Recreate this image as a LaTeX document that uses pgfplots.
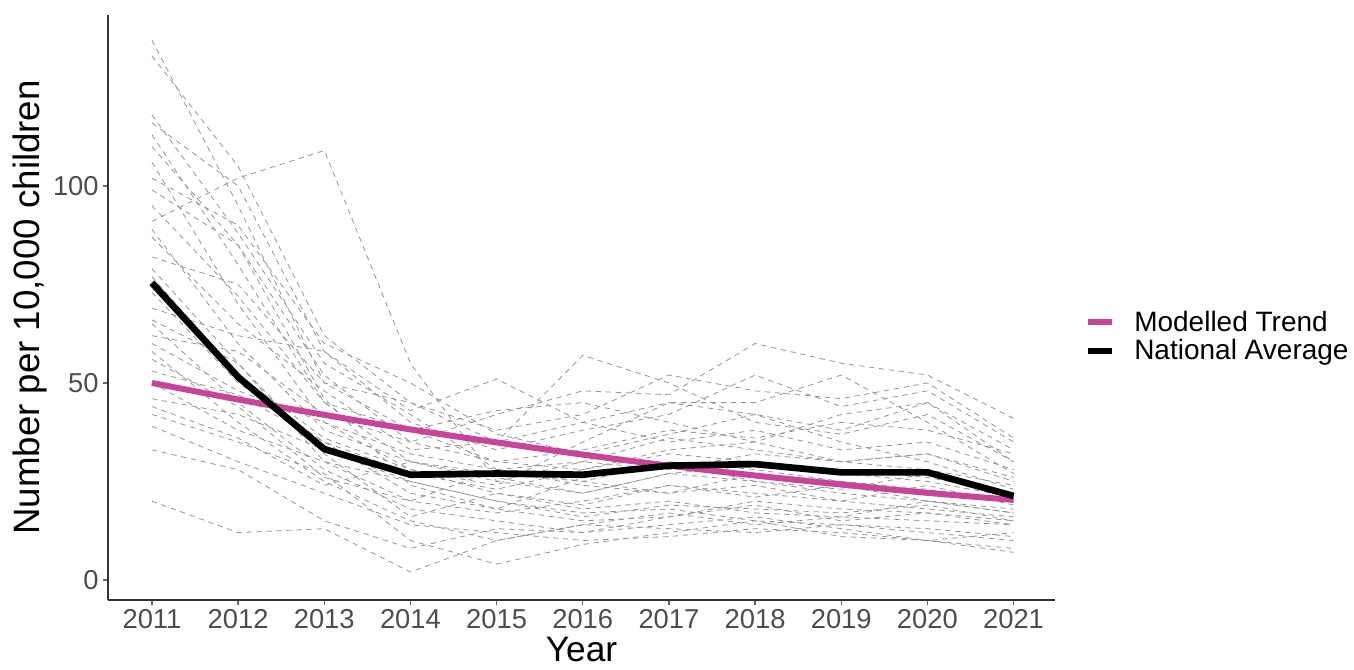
\documentclass[border=0pt]{standalone}
\usepackage{pgfplots}
\pgfplotsset{compat=1.18}
\usepackage{fontspec}
\setmainfont{Liberation Sans}
\definecolor{trendpink}{RGB}{199,68,153}
\definecolor{tickgray}{RGB}{77,77,77}
\pgfplotsset{la/.style={color=black!42, line width=0.6pt, dash pattern=on 4pt off 3.5pt, forget plot}}
\begin{document}
\begin{tikzpicture}
\begin{axis}[
  scale only axis,
  width=710.25pt, height=438.75pt,
  xmin=2010.49, xmax=2021.48,
  ymin=-5.1, ymax=143.4,
  axis x line*=bottom, axis y line*=left,
  axis line style={-, black!80, line width=1pt},
  xtick={2011,2012,...,2021},
  ytick={0,50,100},
  tick align=outside,
  major tick length=3.5pt,
  tick style={black!60, line width=0.9pt},
  /pgf/number format/assume math mode=true,
  x tick label style={/pgf/number format/1000 sep=, font=\fontsize{20.5}{22}\selectfont, text=tickgray},
  y tick label style={font=\fontsize{20.5}{22}\selectfont, text=tickgray},
  xlabel={Year},
  ylabel={Number per 10,000 children},
  xlabel style={font=\fontsize{26.5}{29}\selectfont, at={(axis description cs:0.5,0)}, anchor=base, yshift=-46.5pt},
  ylabel style={font=\fontsize{27.5}{30}\selectfont, at={(axis description cs:-0.0824,0.5)}, anchor=center},
  legend style={at={(axis description cs:1.0264,0.504)}, anchor=north west, draw=none, fill=none,
    font=\fontsize{21}{24}\selectfont, row sep=1pt, cells={anchor=west}},
  legend image code/.code={\draw[#1] (0pt,0pt) -- (18pt,0pt); \path[draw=none] (0pt,0pt) -- (33pt,0pt);},
  every axis plot/.append style={line join=round},
]
\addplot[la] coordinates {(2011,137)(2012,95)(2013,50)(2014,38)(2015,30)(2016,28)(2017,33)(2018,35)(2019,30)(2020,32)(2021,25)};
\addplot[la] coordinates {(2011,133)(2012,105)(2013,62)(2014,45)(2015,35)(2016,40)(2017,45)(2018,42)(2019,38)(2020,45)(2021,30)};
\addplot[la] coordinates {(2011,118)(2012,88)(2013,55)(2014,42)(2015,28)(2016,25)(2017,30)(2018,28)(2019,25)(2020,22)(2021,20)};
\addplot[la] coordinates {(2011,116)(2012,100)(2013,58)(2014,40)(2015,33)(2016,38)(2017,42)(2018,52)(2019,44)(2020,48)(2021,35)};
\addplot[la] coordinates {(2011,113)(2012,80)(2013,45)(2014,30)(2015,25)(2016,22)(2017,27)(2018,25)(2019,22)(2020,20)(2021,18)};
\addplot[la] coordinates {(2011,106)(2012,70)(2013,40)(2014,28)(2015,22)(2016,18)(2017,20)(2018,17)(2019,16)(2020,15)(2021,14)};
\addplot[la] coordinates {(2011,91)(2012,102)(2013,109)(2014,55)(2015,25)(2016,30)(2017,36)(2018,33)(2019,30)(2020,28)(2021,24)};
\addplot[la] coordinates {(2011,99)(2012,85)(2013,52)(2014,35)(2015,42)(2016,48)(2017,47)(2018,60)(2019,55)(2020,52)(2021,41)};
\addplot[la] coordinates {(2011,89)(2012,60)(2013,38)(2014,30)(2015,27)(2016,25)(2017,22)(2018,24)(2019,20)(2020,18)(2021,16)};
\addplot[la] coordinates {(2011,82)(2012,75)(2013,50)(2014,45)(2015,38)(2016,42)(2017,52)(2018,48)(2019,46)(2020,50)(2021,36)};
\addplot[la] coordinates {(2011,79)(2012,55)(2013,30)(2014,25)(2015,20)(2016,17)(2017,18)(2018,15)(2019,14)(2020,12)(2021,10)};
\addplot[la] coordinates {(2011,73)(2012,50)(2013,35)(2014,22)(2015,18)(2016,15)(2017,16)(2018,20)(2019,18)(2020,17)(2021,15)};
\addplot[la] coordinates {(2011,69)(2012,62)(2013,58)(2014,43)(2015,51)(2016,40)(2017,35)(2018,38)(2019,33)(2020,35)(2021,28)};
\addplot[la] coordinates {(2011,65)(2012,45)(2013,28)(2014,18)(2015,15)(2016,12)(2017,14)(2018,16)(2019,13)(2020,10)(2021,8)};
\addplot[la] coordinates {(2011,62)(2012,58)(2013,42)(2014,35)(2015,30)(2016,33)(2017,38)(2018,36)(2019,40)(2020,38)(2021,32)};
\addplot[la] coordinates {(2011,58)(2012,40)(2013,25)(2014,15)(2015,10)(2016,14)(2017,13)(2018,12)(2019,14)(2020,13)(2021,11)};
\addplot[la] coordinates {(2011,53)(2012,47)(2013,35)(2014,27)(2015,23)(2016,28)(2017,32)(2018,30)(2019,28)(2020,26)(2021,22)};
\addplot[la] coordinates {(2011,50)(2012,38)(2013,30)(2014,20)(2015,17)(2016,20)(2017,24)(2018,22)(2019,20)(2020,24)(2021,19)};
\addplot[la] coordinates {(2011,46)(2012,42)(2013,33)(2014,25)(2015,20)(2016,16)(2017,19)(2018,18)(2019,17)(2020,19)(2021,15)};
\addplot[la] coordinates {(2011,42)(2012,35)(2013,27)(2014,10)(2015,4)(2016,9)(2017,12)(2018,15)(2019,11)(2020,10)(2021,7)};
\addplot[la] coordinates {(2011,39)(2012,30)(2013,22)(2014,14)(2015,12)(2016,10)(2017,11)(2018,13)(2019,12)(2020,10)(2021,12)};
\addplot[la] coordinates {(2011,33)(2012,28)(2013,15)(2014,8)(2015,13)(2016,12)(2017,16)(2018,19)(2019,15)(2020,17)(2021,14)};
\addplot[la] coordinates {(2011,20)(2012,12)(2013,13)(2014,2)(2015,10)(2016,14)(2017,17)(2018,14)(2019,16)(2020,20)(2021,17)};
\addplot[la] coordinates {(2011,87)(2012,65)(2013,48)(2014,33)(2015,35)(2016,57)(2017,50)(2018,40)(2019,37)(2020,42)(2021,30)};
\addplot[la] coordinates {(2011,77)(2012,52)(2013,36)(2014,28)(2015,24)(2016,35)(2017,45)(2018,45)(2019,52)(2020,40)(2021,27)};
\addplot[la] coordinates {(2011,95)(2012,72)(2013,45)(2014,38)(2015,43)(2016,45)(2017,40)(2018,35)(2019,42)(2020,45)(2021,33)};
\addplot[la] coordinates {(2011,60)(2012,48)(2013,40)(2014,32)(2015,28)(2016,30)(2017,28)(2018,32)(2019,30)(2020,32)(2021,26)};
\addplot[la] coordinates {(2011,56)(2012,44)(2013,26)(2014,20)(2015,28)(2016,24)(2017,22)(2018,27)(2019,25)(2020,23)(2021,20)};
\addplot[la] coordinates {(2011,102)(2012,90)(2013,60)(2014,50)(2015,37)(2016,32)(2017,37)(2018,42)(2019,35)(2020,30)(2021,23)};
\addplot[la] coordinates {(2011,110)(2012,85)(2013,46)(2014,24)(2015,18)(2016,26)(2017,30)(2018,25)(2019,23)(2020,27)(2021,21)};
\addplot[la] coordinates {(2011,66)(2012,55)(2013,32)(2014,16)(2015,22)(2016,19)(2017,24)(2018,21)(2019,24)(2020,20)(2021,17)};
\addplot[la] coordinates {(2011,44)(2012,36)(2013,24)(2014,30)(2015,26)(2016,22)(2017,27)(2018,29)(2019,27)(2020,25)(2021,21)};
% modelled trend
\addplot[trendpink, line width=4.5pt, smooth] coordinates {(2011,50)(2012,45.8)(2013,41.9)(2014,38.2)(2015,34.9)(2016,31.8)(2017,29.0)(2018,26.5)(2019,24.2)(2020,22.1)(2021,20.3)};
\addlegendentry{Modelled Trend}
% national average
\addplot[black, line width=5pt] coordinates {(2011,75.4)(2012,51.5)(2013,33.2)(2014,26.7)(2015,27.0)(2016,26.7)(2017,29.0)(2018,29.4)(2019,27.3)(2020,27.3)(2021,21.3)};
\addlegendentry{National Average}
\end{axis}
\pgfresetboundingbox
\path[use as bounding box] (-81pt,-52.5pt) rectangle (934.5pt,450pt);
\end{tikzpicture}
\end{document}
